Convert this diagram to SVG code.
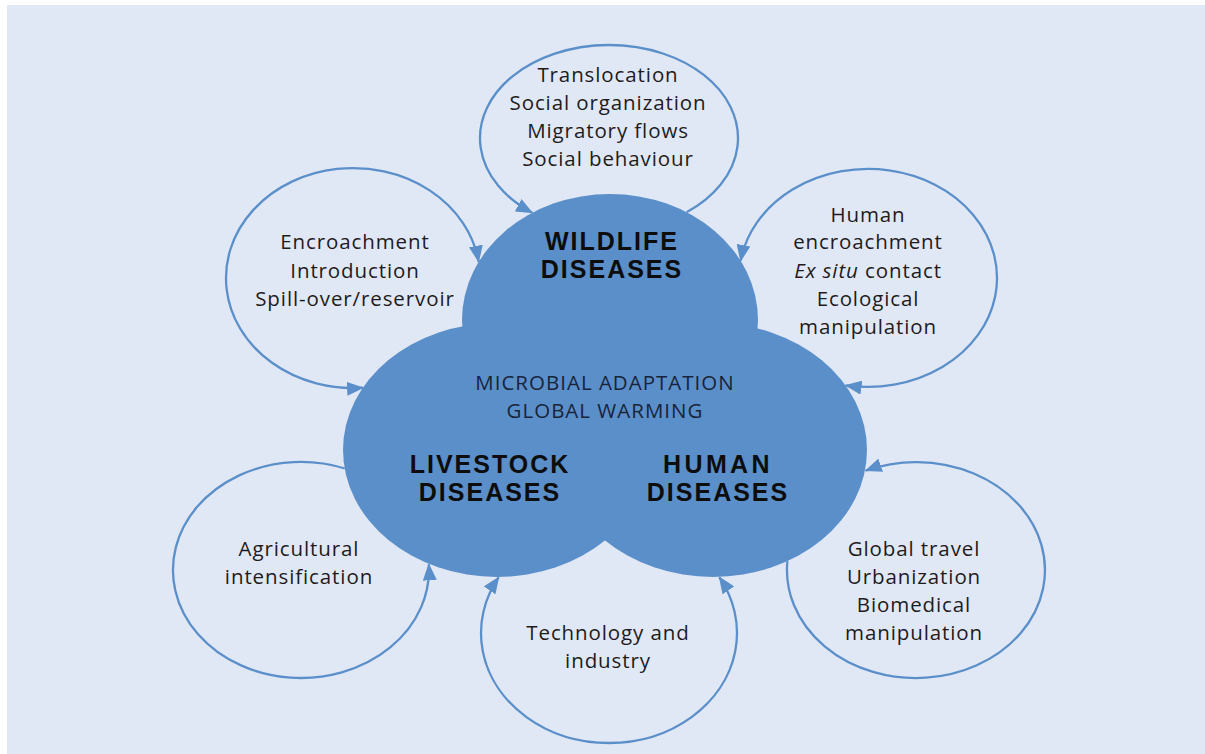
<svg xmlns="http://www.w3.org/2000/svg" width="1205" height="754" viewBox="0 0 1205 754">
  <style>
    .core { fill: #5b8fca; }
    .loop { fill: none; stroke: #5b8fca; stroke-width: 2.3; }
    .lbl { font-family: "Open Sans", "Noto Sans", "Liberation Sans", sans-serif; font-size: 20.5px; letter-spacing: 0.9px; fill: #1f1b1c; text-anchor: middle; }
    .mid { font-family: "Open Sans", "Noto Sans", "Liberation Sans", sans-serif; font-size: 20.5px; letter-spacing: 1px; fill: #17243a; text-anchor: middle; }
    .big { font-family: "Liberation Sans", Arial, sans-serif; font-size: 25px; font-weight: 700; letter-spacing: 2px; fill: #0d0d0d; text-anchor: middle; }
  </style>
  <defs>
    <marker id="arrow" viewBox="0 0 17 14" refX="16" refY="7" markerWidth="17" markerHeight="14" markerUnits="userSpaceOnUse" orient="auto-start-reverse">
      <path d="M0,0 L17,7 L0,14 z" fill="#5b8fca"/>
    </marker>
  </defs>

  <!-- page background -->
  <rect x="0" y="0" width="1205" height="754" fill="#ffffff"/>
  <rect x="7" y="5" width="1198" height="749" fill="#e1e8f5"/>

  <!-- central three-lobed body -->
  <g id="core-shape">
    <ellipse class="core" cx="610" cy="320" rx="148" ry="126"/>
    <ellipse class="core" cx="497" cy="450" rx="154" ry="127"/>
    <ellipse class="core" cx="713" cy="450" rx="154" ry="127"/>
  </g>

  <g id="wildlife-diseases">
    <text class="big"><tspan x="612" y="250">WILDLIFE</tspan><tspan x="612" y="278">DISEASES</tspan></text>
  </g>
  <g id="shared-drivers">
    <text class="mid"><tspan x="605" y="390">MICROBIAL ADAPTATION</tspan><tspan x="605" y="418">GLOBAL WARMING</tspan></text>
  </g>
  <g id="livestock-diseases">
    <text class="big"><tspan x="490" y="473">LIVESTOCK</tspan><tspan x="490" y="501">DISEASES</tspan></text>
  </g>
  <g id="human-diseases">
    <text class="big"><tspan x="718" y="473" letter-spacing="3.4">HUMAN</tspan><tspan x="718" y="501">DISEASES</tspan></text>
  </g>

  <!-- feedback loops around the core -->
  <g id="connectors">
    <path class="loop" d="M686.6,212.3 A129,93 0 1 0 532.3,212.8" marker-end="url(#arrow)"/>
    <path class="loop" d="M363.0,387.7 A127,110 0 1 1 478.6,261.7" marker-start="url(#arrow)" marker-end="url(#arrow)"/>
    <path class="loop" d="M845.6,385.3 A129,109 0 1 0 740.6,260.9" marker-start="url(#arrow)" marker-end="url(#arrow)"/>
    <path class="loop" d="M344.8,468.5 A128,108 0 1 0 428.8,564.3" marker-end="url(#arrow)"/>
    <path class="loop" d="M498.7,577.2 A128,110 0 1 0 719.3,577.2" marker-start="url(#arrow)" marker-end="url(#arrow)"/>
    <path class="loop" d="M787.4,561.2 A129,108 0 1 0 865.6,470.6" marker-end="url(#arrow)"/>
  </g>

  <g id="wildlife-drivers">
    <text class="lbl"><tspan x="608" y="82">Translocation</tspan><tspan x="608" y="110">Social organization</tspan><tspan x="608" y="138">Migratory flows</tspan><tspan x="608" y="166">Social behaviour</tspan></text>
  </g>
  <g id="interface-drivers">
    <text class="lbl"><tspan x="355" y="249">Encroachment</tspan><tspan x="355" y="278">Introduction</tspan><tspan x="355" y="306">Spill-over/reservoir</tspan></text>
  </g>
  <g id="human-wildlife-drivers">
    <text class="lbl"><tspan x="868" y="222">Human</tspan><tspan x="868" y="249">encroachment</tspan><tspan x="868" y="278"><tspan font-style="italic">Ex situ</tspan> contact</tspan><tspan x="868" y="306">Ecological</tspan><tspan x="868" y="334">manipulation</tspan></text>
  </g>
  <g id="agricultural-drivers">
    <text class="lbl"><tspan x="299" y="556">Agricultural</tspan><tspan x="299" y="584">intensification</tspan></text>
  </g>
  <g id="technology-drivers">
    <text class="lbl"><tspan x="608" y="640">Technology and</tspan><tspan x="608" y="668">industry</tspan></text>
  </g>
  <g id="human-drivers">
    <text class="lbl"><tspan x="914" y="556">Global travel</tspan><tspan x="914" y="584">Urbanization</tspan><tspan x="914" y="612">Biomedical</tspan><tspan x="914" y="640">manipulation</tspan></text>
  </g>
</svg>
